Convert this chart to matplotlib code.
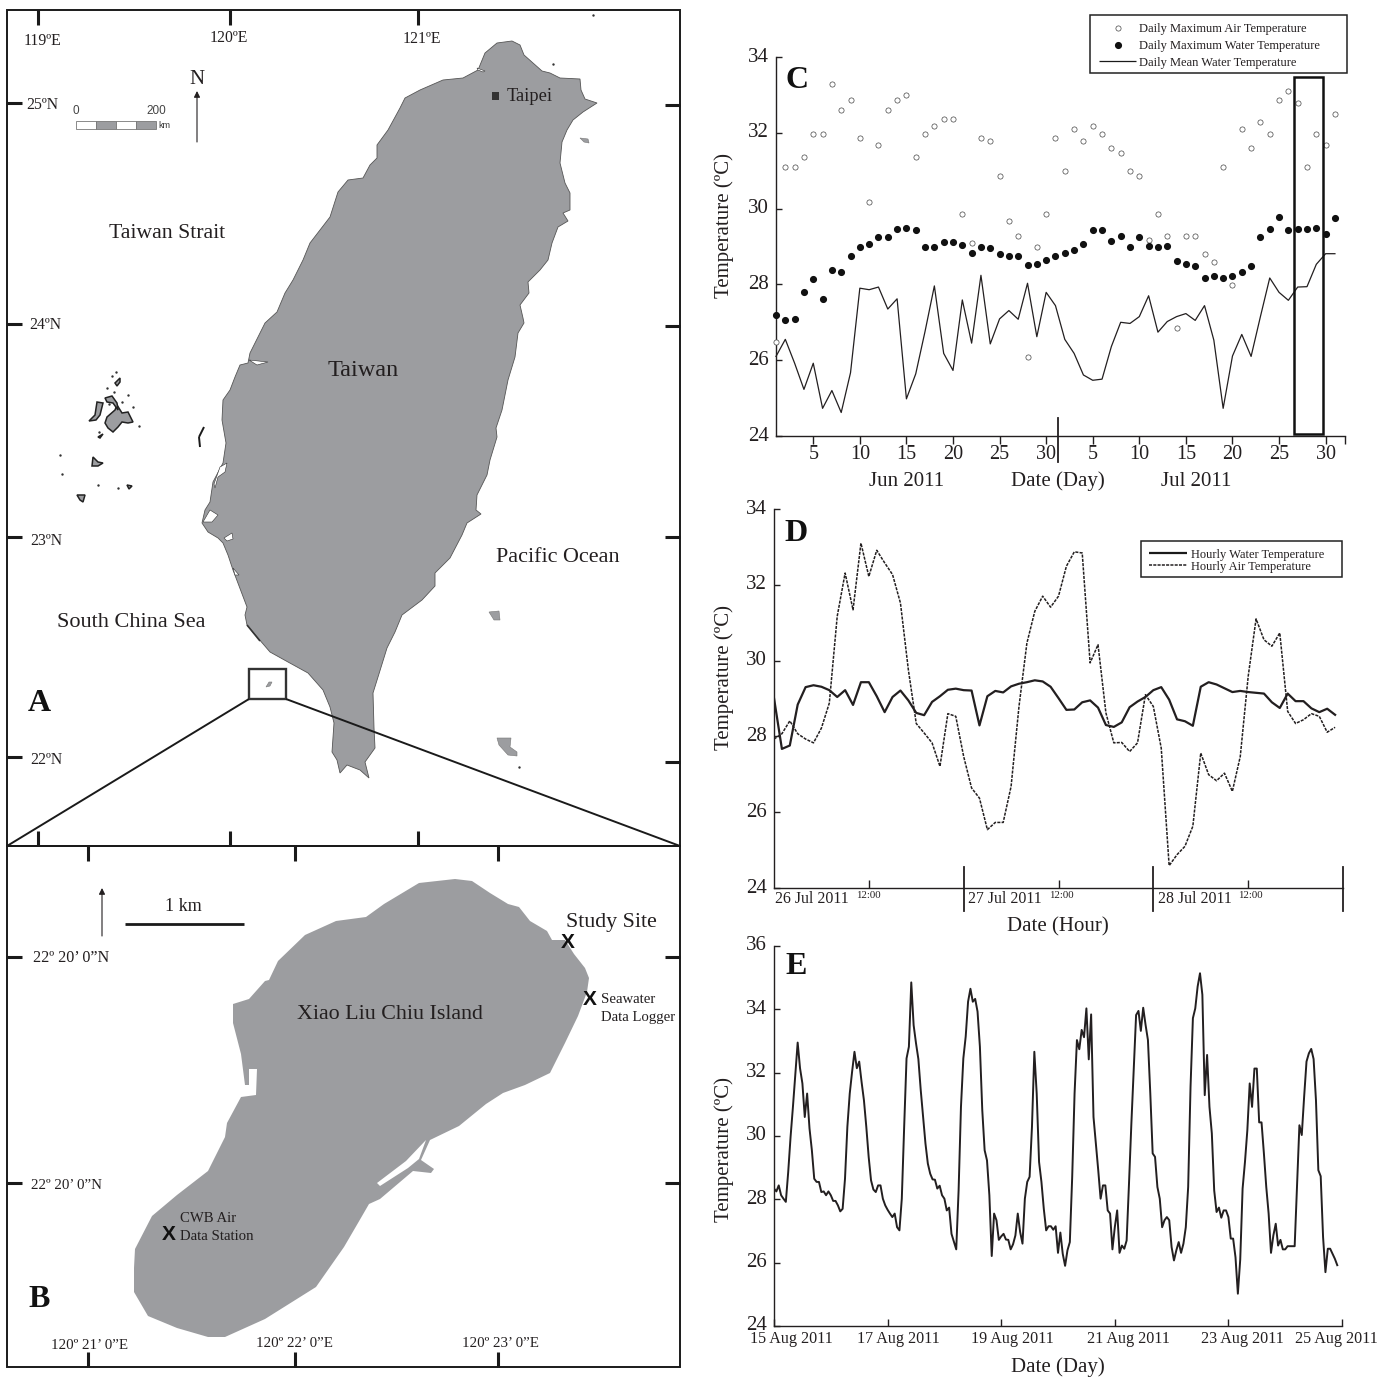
import numpy as np
import matplotlib
matplotlib.use('Agg')
import matplotlib.pyplot as plt
from matplotlib.patches import Polygon, Rectangle
from matplotlib.transforms import ScaledTranslation

plt.rcParams['font.family'] = ['Liberation Serif', 'DejaVu Serif']

W, H = 1390, 1377
INK = '#231f20'
LAND = '#9c9da0'

# panel C, one value per day from 1 Jun to 31 Jul
air_max = [26.47, 31.1, 31.1, 31.37, 31.98, 31.98, 33.3, 32.6, 32.87, 31.87, 30.18, 31.68, 32.6, 32.87, 32.99, 31.37,
           31.98, 32.19, 32.37, 32.37, 29.87, 29.09, 31.87, 31.79, 30.87, 29.68, 29.29, 26.09, 28.98, 29.87,
           31.87, 30.98, 32.1, 31.79, 32.19, 31.98, 31.6, 31.48, 30.98, 30.87, 29.18, 29.87, 29.29, 26.86, 29.29, 29.29,
           28.79, 28.6, 31.1, 27.99, 32.1, 31.6, 32.29, 31.98, 32.87, 33.09, 32.79, 31.1, 31.98, 31.68, 32.49]
water_max = [27.2, 27.06, 27.09, 27.79, 28.15, 27.62, 28.38, 28.34, 28.76, 28.98, 29.07, 29.24, 29.26, 29.46, 29.48, 29.43,
             28.98, 28.98, 29.12, 29.12, 29.04, 28.82, 28.98, 28.96, 28.79, 28.74, 28.74, 28.51, 28.54, 28.65,
             28.74, 28.84, 28.9, 29.07, 29.43, 29.43, 29.15, 29.29, 28.98, 29.24, 29.01, 28.98, 29.01, 28.62, 28.54, 28.48,
             28.17, 28.21, 28.17, 28.21, 28.34, 28.48, 29.24, 29.46, 29.77, 29.43, 29.46, 29.46, 29.48, 29.34, 29.74]
water_mean = [26.1, 26.55, 25.92, 25.23, 25.92, 24.73, 25.2, 24.62, 25.67, 27.9, 27.86, 27.93, 27.35, 27.62, 24.98, 25.64,
              26.76, 27.96, 26.18, 25.73, 27.59, 26.45, 28.24, 26.43, 27.09, 27.31, 27.08, 28.03, 26.62, 27.79,
              27.44, 26.55, 26.18, 25.61, 25.47, 25.5, 26.36, 27.0, 26.97, 27.15, 27.7, 26.74, 27.02, 27.15, 27.23, 27.05,
              27.44, 26.53, 24.73, 26.11, 26.68, 26.1, 27.15, 28.17, 27.79, 27.58, 27.93, 27.94, 28.53, 28.81, 28.81]

# panel D, hourly from 26 Jul
hourly_water = [29.01, 27.67, 27.76, 28.84, 29.3, 29.35, 29.31, 29.22, 29.04, 29.22, 28.83, 29.43, 29.43, 29.06, 28.64, 29.04,
                29.21, 28.95, 28.62, 28.56, 28.91, 29.06, 29.23, 29.26, 29.22, 29.21, 28.29, 29.06, 29.2, 29.16, 29.32, 29.39,
                29.43, 29.48, 29.45, 29.31, 29.01, 28.7, 28.71, 28.9, 28.95, 28.76, 28.3, 28.25, 28.37, 28.77, 28.92, 29.04,
                29.22, 29.3, 28.97, 28.45, 28.4, 28.28, 29.31, 29.43, 29.37, 29.27, 29.17, 29.2, 29.17, 29.15, 29.13, 28.9,
                28.75, 29.13, 28.93, 28.93, 28.74, 28.64, 28.73, 28.57]
hourly_air = [27.93, 28.07, 28.41, 28.07, 27.93, 27.83, 28.22, 28.88, 31.17, 32.31, 31.34, 33.1, 32.22, 32.91, 32.58, 32.27,
              31.52, 29.76, 28.34, 28.09, 27.83, 27.21, 28.6, 28.53, 27.47, 26.64, 26.37, 25.54, 25.73, 25.73, 26.68, 28.79,
              30.46, 31.3, 31.7, 31.41, 31.7, 32.49, 32.87, 32.84, 29.94, 30.42, 28.62, 27.83, 27.84, 27.6, 27.83, 29.1,
              28.79, 27.69, 24.59, 24.88, 25.1, 25.63, 27.56, 26.99, 26.83, 27.03, 26.55, 27.47, 29.58, 31.1, 30.55, 30.38,
              30.73, 28.66, 28.34, 28.44, 28.6, 28.53, 28.11, 28.24]

# panel E, hourly from 15 Aug
aug_air = [28.34, 28.25, 28.44, 28.13, 28.02, 27.92, 28.86, 29.97, 30.92, 31.92, 32.95, 32.14, 31.66, 30.6, 31.34, 30.24,
           29.55, 28.65, 28.55, 28.55, 28.23, 28.25, 28.13, 28.25, 28.13, 27.95, 27.95, 27.81, 27.62, 27.7, 28.65, 30.29,
           31.34, 32.03, 32.66, 32.14, 32.35, 31.71, 31.13, 30.29, 29.34, 28.6, 28.31, 28.23, 28.44, 28.44, 28.02, 27.81,
           27.67, 27.55, 27.44, 27.55, 27.12, 27.02, 28.02, 30.29, 32.45, 32.82, 34.85, 33.5, 32.93, 32.43, 31.45, 30.6,
           29.76, 29.13, 28.81, 28.63, 28.62, 28.34, 28.43, 28.13, 28.02, 27.65, 27.74, 26.91, 26.67, 26.42, 28.28, 30.92,
           32.45, 33.14, 34.24, 34.65, 34.24, 34.33, 33.93, 32.82, 30.82, 29.55, 29.23, 28.13, 26.21, 27.55, 27.34, 26.72,
           26.83, 26.91, 26.73, 26.72, 26.42, 26.58, 26.86, 27.55, 26.97, 26.6, 28.02, 28.55, 28.71, 30.29, 32.66, 31.34,
           29.18, 28.55, 27.7, 27.02, 27.15, 27.15, 27.04, 27.15, 26.31, 26.95, 26.28, 25.9, 26.39, 26.65, 28.71, 31.34,
           33.03, 32.74, 33.35, 33.12, 34.03, 32.42, 33.84, 30.6, 29.76, 28.92, 28.02, 28.44, 28.44, 27.65, 27.55, 26.42,
           27.12, 27.65, 26.31, 26.54, 26.44, 26.7, 28.5, 30.39, 32.08, 33.82, 33.95, 33.32, 34.05, 33.51, 33.03, 31.34,
           29.45, 29.34, 28.39, 28.02, 27.12, 27.34, 27.44, 27.34, 26.49, 26.07, 26.39, 26.65, 26.31, 26.6, 27.12, 28.39,
           31.55, 33.72, 34.03, 34.72, 35.14, 34.46, 31.29, 32.56, 30.92, 30.08, 28.28, 27.6, 27.74, 27.42, 27.65, 27.65,
           27.44, 26.76, 26.76, 26.17, 25.02, 26.1, 28.34, 29.18, 30.18, 31.66, 30.92, 32.13, 32.13, 30.43, 30.43, 29.45,
           28.39, 27.55, 26.31, 26.86, 27.23, 26.54, 26.72, 26.42, 26.42, 26.52, 26.52, 26.52, 26.52, 28.39, 30.34, 30.03,
           31.24, 32.35, 32.61, 32.75, 32.43, 31.13, 28.92, 28.73, 26.81, 25.7, 26.44, 26.44, 26.28, 26.12, 25.92]

c_ticks = [5, 10, 15, 20, 25, 30, 35, 40, 45, 50, 55, 60]
c_labels = ['5', '10', '15', '20', '25', '30', '5', '10', '15', '20', '25', '30']
d_days = ['26 Jul 2011', '27 Jul 2011', '28 Jul 2011']
e_days = ['15 Aug 2011', '17 Aug 2011', '19 Aug 2011', '21 Aug 2011', '23 Aug 2011', '25 Aug 2011']

# map outlines in pixels
taiwan = [(497, 43), (512, 41), (520, 45), (524, 55), (533, 63), (542, 71), (550, 73), (560, 78), (580, 79), (581, 90),
          (585, 99), (597, 103), (583, 112), (573, 120), (567, 130), (562, 142), (560, 163), (565, 183), (570, 193),
          (570, 210), (563, 213), (568, 221), (558, 227), (552, 243), (548, 260), (540, 270), (528, 282), (529, 293),
          (520, 305), (523, 318), (524, 323), (518, 333), (515, 357), (508, 380), (502, 410), (496, 428), (497, 437),
          (490, 460), (487, 475), (477, 495), (476, 510), (481, 514), (467, 523), (462, 535), (450, 558), (435, 573),
          (435, 586), (422, 600), (402, 615), (395, 632), (387, 648), (378, 677), (373, 693), (374, 728), (375, 748),
          (365, 762), (369, 778), (360, 770), (347, 765), (340, 773), (337, 760), (332, 752), (334, 723), (330, 707),
          (323, 690), (308, 673), (288, 662), (270, 652), (258, 638), (247, 625), (245, 615), (247, 607), (233, 570),
          (228, 555), (223, 543), (218, 538), (208, 532), (202, 523), (205, 510), (210, 502), (213, 482), (223, 463),
          (226, 443), (222, 420), (223, 400), (230, 390), (235, 377), (240, 365), (248, 363), (250, 353), (260, 333),
          (265, 323), (277, 312), (285, 293), (293, 280), (303, 260), (310, 243), (330, 217), (338, 192), (348, 180),
          (363, 178), (370, 165), (377, 158), (377, 145), (388, 130), (400, 108), (405, 98), (420, 90), (443, 80),
          (463, 78), (478, 70), (485, 53)]
lagoons = [[(203, 522), (210, 510), (218, 515), (212, 522)],
           [(224, 538), (232, 533), (233, 539), (227, 541)],
           [(233, 568), (239, 575), (235, 575)],
           [(220, 467), (227, 463), (225, 472), (218, 477), (215, 488), (214, 484)],
           [(249, 360), (268, 362), (257, 365)],
           [(477, 68), (485, 71), (483, 72), (478, 70)]]
islets = [[(107, 417), (115, 410), (117, 405), (122, 413), (128, 412), (133, 422), (128, 423), (122, 422), (118, 427),
           (113, 432), (108, 428), (105, 423)],
          [(89, 421), (95, 415), (97, 402), (103, 403), (100, 415), (96, 420)],
          [(105, 398), (112, 396), (117, 403), (118, 410), (113, 403), (107, 402)],
          [(115, 383), (120, 378), (120, 382), (117, 386)],
          [(98, 437), (103, 434), (100, 438)],
          [(93, 457), (98, 462), (103, 463), (98, 466), (92, 466)],
          [(77, 495), (85, 495), (83, 502), (80, 500)],
          [(127, 485), (132, 486), (129, 489)]]
islet_dots = [(60, 455), (118, 488), (98, 485), (62, 474), (112, 376), (116, 372), (107, 388), (114, 392), (122, 402),
              (133, 407), (139, 426), (99, 432), (128, 395), (109, 404), (593, 15), (553, 64), (519, 767)]
east_islands = [[(489, 612), (499, 611), (500, 620), (494, 620)],
                [(497, 738), (511, 738), (510, 747), (517, 752), (517, 756), (508, 755), (499, 745)],
                [(580, 138), (588, 139), (589, 143), (584, 142)],
                [(266, 687), (269, 682), (272, 682), (270, 686)]]
xiao_liu_chiu = [(455, 879), (472, 881), (490, 893), (508, 904), (519, 907), (530, 921), (547, 931), (552, 940), (565, 940),
                 (574, 954), (585, 968), (589, 978), (587, 992), (578, 1016), (565, 1043), (550, 1073), (525, 1085),
                 (503, 1093), (486, 1104), (459, 1126), (430, 1140), (421, 1160), (434, 1169), (431, 1173), (413, 1171),
                 (380, 1199), (369, 1204), (358, 1223), (344, 1247), (316, 1287), (265, 1319), (225, 1337), (208, 1337),
                 (177, 1328), (148, 1316), (134, 1292), (134, 1268), (135, 1249), (152, 1216), (177, 1195), (208, 1171),
                 (225, 1137), (227, 1123), (241, 1097), (256, 1095), (257, 1069), (249, 1069), (249, 1085), (245, 1085),
                 (241, 1054), (233, 1023), (233, 1004), (249, 999), (265, 981), (269, 980), (278, 961), (305, 935),
                 (336, 921), (366, 917), (384, 904), (419, 883)]
xlc_inlet = [(426, 1140), (419, 1159), (408, 1168), (380, 1186), (377, 1183), (406, 1161)]

fig = plt.figure(figsize=(W / 100, H / 100), dpi=100)


def panel(left, top, right, bottom):
    ax = fig.add_axes([left / W, 1 - bottom / H, (right - left) / W, (bottom - top) / H])
    ax.patch.set_alpha(0)
    ax.spines['top'].set_visible(False)
    ax.spines['right'].set_visible(False)
    for s in ['left', 'bottom']:
        ax.spines[s].set_color(INK)
        ax.spines[s].set_linewidth(1.0)
    ax.tick_params(axis='y', direction='in', length=4.5, width=1, color=INK, labelsize=15, labelcolor=INK, pad=5)
    return ax


def nudge_y_labels(ax):
    off = ScaledTranslation(0, 2.5 / 100, fig.dpi_scale_trans)
    for lab in ax.get_yticklabels():
        lab.set_transform(lab.get_transform() + off)


# ---- C
axc = panel(776, 57, 1345, 436)
axc.set_xlim(1, 62.08)
axc.set_ylim(24, 34)
days = np.arange(1, len(air_max) + 1)
axc.plot(days, water_mean, color=INK, lw=0.9, clip_on=False)
axc.scatter(days, air_max, s=14, facecolors='white', edgecolors='#444444', linewidths=0.5, clip_on=False, zorder=3)
axc.scatter(days, water_max, s=17, color='#111111', clip_on=False, zorder=3)
axc.set_yticks([24, 26, 28, 30, 32, 34])
axc.set_xticks(c_ticks + [62.08])
axc.set_xticklabels(c_labels + [''])
axc.tick_params(axis='x', direction='out', length=5.8, width=1, color=INK, labelsize=14.5, labelcolor=INK, pad=1)
axc.axvline(31.27, ymin=-0.069, ymax=0.047, color=INK, lw=1.3, clip_on=False)
axc.add_patch(Rectangle((56.6, 24.05), 3.11, 9.41, fill=False, ec='#111111', lw=1.8, clip_on=False, zorder=4))

# ---- D
axd = panel(774, 509, 1343, 888)
axd.set_xlim(0, 72)
axd.set_ylim(24, 34)
hours = np.arange(len(hourly_water))
axd.plot(hours, hourly_water, color=INK, lw=1.6)
axd.plot(hours, hourly_air, color=INK, lw=1.1, dashes=(2, 0.8))
axd.set_yticks([24, 26, 28, 30, 32, 34])
axd.set_xticks([12, 36, 60])
axd.set_xticklabels(['', '', ''])
axd.tick_params(axis='x', direction='in', length=5.8, width=1, color=INK)
for h in [24, 48, 72]:
    axd.axvline(h, ymin=-0.06, ymax=0.055, color=INK, lw=1.3, clip_on=False)

# ---- E
axe = panel(774, 946, 1342, 1326)
axe.set_xlim(0, 240)
axe.set_ylim(24, 36)
axe.plot(np.arange(len(aug_air)), aug_air, color=INK, lw=1.4)
axe.set_yticks([24, 26, 28, 30, 32, 34, 36])
axe.set_xticks([0, 48, 96, 144, 192, 240])
axe.set_xticklabels([''] * 6)
axe.tick_params(axis='x', direction='in', length=5, width=1, color=INK)

for ax in [axc, axd, axe]:
    nudge_y_labels(ax)

# overlay in picture pixels: maps, legends and loose text
ov = fig.add_axes([0, 0, 1, 1], zorder=5)
ov.set_xlim(0, W)
ov.set_ylim(H, 0)
ov.axis('off')


def txt(x, y, s, size, ha='left', **kw):
    kw.setdefault('color', INK)
    if kw.get('rotation') is None:
        y = y + size * 0.28
    ov.text(x, y, s, fontsize=size, ha=ha, va='center', **kw)


def seg(x0, y0, x1, y1, lw=2.2, color='#1a1a1a'):
    ov.plot([x0, x1], [y0, y1], color=color, lw=lw, solid_capstyle='butt')


# land
ov.add_patch(Polygon(taiwan, fc=LAND, ec='#555555', lw=0.6))
for p in lagoons:
    ov.add_patch(Polygon(p, fc='white', ec='#333333', lw=0.4))
for p in islets:
    ov.add_patch(Polygon(p, fc=LAND, ec='#222222', lw=1.1))
for p in east_islands:
    ov.add_patch(Polygon(p, fc=LAND, ec='#777777', lw=0.4))
ov.scatter([d[0] for d in islet_dots], [d[1] for d in islet_dots], s=3, color='#333333', lw=0)
seg(204, 427, 199, 437, lw=1.4)
seg(199, 437, 200, 447, lw=1.4)
seg(247, 625, 260, 641, lw=1.2, color='#333333')
ov.add_patch(Polygon(xiao_liu_chiu, fc=LAND, ec='none'))
ov.add_patch(Polygon(xlc_inlet, fc='white', ec='none'))

# frames, ticks
ov.add_patch(Rectangle((7, 10), 673, 836, fill=False, ec='#1a1a1a', lw=1.4))
ov.add_patch(Rectangle((7, 846), 673, 521, fill=False, ec='#1a1a1a', lw=1.4))
for x in [38, 230, 418]:
    seg(x, 10, x, 25)
    seg(x, 846, x, 831)
for y in [103, 324, 537, 757]:
    seg(7, y, 22, y)
for y in [105, 326, 537, 762]:
    seg(665, y, 680, y)
for x in [88, 295, 498]:
    seg(x, 846, x, 861)
    seg(x, 1367, x, 1352)
for y in [957, 1183]:
    seg(7, y, 22, y)
    seg(665, y, 680, y)

# zoom box
ov.add_patch(Rectangle((249, 669), 37, 30, fill=False, ec='#333333', lw=1.7))
seg(249, 699, 7, 846, lw=1.4)
seg(286, 699, 680, 846, lw=1.4)

# panel A text
txt(42, 38, '119ºE', 11.3, ha='center')
txt(229, 35, '120ºE', 11.3, ha='center')
txt(422, 36, '121ºE', 11.3, ha='center')
txt(26, 102, '25ºN', 11.3)
txt(29, 322, '24ºN', 11.3)
txt(30, 538, '23ºN', 11.3)
txt(30, 757, '22ºN', 11.3)
txt(197, 75, 'N', 15, ha='center')
ov.annotate('', xy=(197, 91), xytext=(197, 142), arrowprops=dict(arrowstyle='-|>', color=INK, lw=0.8, mutation_scale=9, shrinkA=0, shrinkB=0))
for i, c in enumerate(['white', LAND, 'white', LAND]):
    ov.add_patch(Rectangle((76 + i * 20, 121), 20, 8, fc=c, ec='#777777', lw=0.6))
sans = ['Liberation Sans', 'DejaVu Sans']
txt(76, 109, '0', 8.5, ha='center', family=sans, color='#444444')
txt(156, 109, '200', 8.5, ha='center', family=sans, color='#444444')
txt(158, 124, 'km', 6.5, family=sans, color='#333333')
txt(167, 229, 'Taiwan Strait', 15.7, ha='center')
txt(363, 366, 'Taiwan', 17.5, ha='center')
ov.add_patch(Rectangle((492, 92), 7, 8, fc='#333333', ec='none'))
txt(507, 93, 'Taipei', 13.2)
txt(558, 553, 'Pacific Ocean', 15.9, ha='center')
txt(131, 618, 'South China Sea', 16, ha='center')
txt(39, 697, 'A', 23, ha='center', fontweight='bold', color='#111111')

# panel B text
ov.annotate('', xy=(102, 888), xytext=(102, 936), arrowprops=dict(arrowstyle='-|>', color=INK, lw=0.8, mutation_scale=9, shrinkA=0, shrinkB=0))
txt(183, 903, '1 km', 13, ha='center')
seg(125, 924, 244, 924, lw=2)
txt(33, 955, '22º 20’ 0”N', 11.6)
txt(31, 1182, '22º 20’ 0”N', 10.8)
txt(611, 918, 'Study Site', 15.8, ha='center')
txt(568, 938, 'X', 15, ha='center', family=sans, fontweight='bold', color='#111111')
txt(590, 995, 'X', 15, ha='center', family=sans, fontweight='bold', color='#111111')
txt(169, 1230, 'X', 15, ha='center', family=sans, fontweight='bold', color='#111111')
txt(601, 997, 'Seawater', 10.6)
txt(601, 1015, 'Data Logger', 10.6)
txt(390, 1010, 'Xiao Liu Chiu Island', 15.8, ha='center')
txt(180, 1216, 'CWB Air', 10.6)
txt(180, 1234, 'Data Station', 10.6)
txt(39, 1293, 'B', 23, ha='center', fontweight='bold', color='#111111')
txt(90, 1342, '120º 21’ 0”E', 10.8, ha='center')
txt(295, 1340, '120º 22’ 0”E', 10.8, ha='center')
txt(500, 1340, '120º 23’ 0”E', 10.8, ha='center')

# panel C text and legend
txt(797, 74, 'C', 23, ha='center', fontweight='bold', color='#111111')
txt(724, 226, 'Temperature (ºC)', 15, ha='center', rotation=90)
txt(907, 477, 'Jun 2011', 15, ha='center')
txt(1058, 477, 'Date (Day)', 15, ha='center')
txt(1196, 477, 'Jul 2011', 15, ha='center')
ov.add_patch(Rectangle((1090, 15), 257, 58, fill=False, ec='#222222', lw=1.1))
ov.scatter([1118], [28], s=14, facecolors='white', edgecolors='#444444', linewidths=0.5)
ov.scatter([1118], [45], s=17, color='#111111')
seg(1099, 61, 1136, 61, lw=0.9)
txt(1139, 26, 'Daily Maximum Air Temperature', 9)
txt(1139, 43, 'Daily Maximum Water Temperature', 9)
txt(1139, 60, 'Daily Mean Water Temperature', 9)

# panel D text and legend
txt(796, 527, 'D', 23, ha='center', fontweight='bold', color='#111111')
txt(724, 678, 'Temperature (ºC)', 15, ha='center', rotation=90)
ov.add_patch(Rectangle((1141, 541), 201, 36, fill=False, ec='#222222', lw=1.1))
seg(1149, 553, 1187, 553, lw=1.6)
ov.plot([1149, 1187], [565, 565], color=INK, lw=1.1, dashes=(2, 0.8))
txt(1191, 552, 'Hourly Water Temperature', 9)
txt(1191, 564, 'Hourly Air Temperature', 9)
for x, s in zip([775, 968, 1158], d_days):
    txt(x, 896, s, 11.4)
for x in [856, 1049, 1238]:
    txt(x, 893, '12:00', 7.8)
txt(1058, 923, 'Date (Hour)', 15, ha='center')

# panel E text
txt(796, 960, 'E', 23, ha='center', fontweight='bold', color='#111111')
txt(724, 1150, 'Temperature (ºC)', 15, ha='center', rotation=90)
for x, s in zip([791, 898, 1012, 1128, 1242, 1336], e_days):
    txt(x, 1336, s, 11.6, ha='center')
txt(1058, 1363, 'Date (Day)', 15, ha='center')

fig.savefig('out.png', dpi=100, facecolor='white')
